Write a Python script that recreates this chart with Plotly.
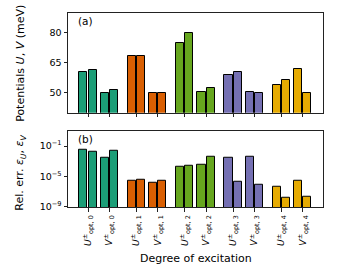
import plotly.graph_objects as go
import numpy as np

groups = [0, 1, 2, 3, 4]
colors = ["#1b9e77", "#d95f02", "#66a61e", "#7570b3", "#e6ab02"]
# per group: [U+, U-, V+, V-]
potentials = [
    [60.2, 61.3, 50.0, 51.5],
    [68.3, 68.5, 49.8, 50.0],
    [74.8, 79.8, 50.3, 52.2],
    [59.0, 60.2, 50.2, 50.0],
    [53.8, 56.3, 61.7, 49.8],
]
log_rel_err = [
    [-1.43, -1.70, -2.56, -1.57],
    [-5.60, -5.40, -5.83, -5.60],
    [-3.74, -3.57, -3.44, -2.35],
    [-2.60, -5.74, -2.43, -6.09],
    [-6.35, -7.78, -5.52, -7.69],
]
tick_labels = []
for g in groups:
    tick_labels.append(f"<i>U</i><sup>±</sup><sub>opt, {g}</sub>")
    tick_labels.append(f"<i>V</i><sup>±</sup><sub>opt, {g}</sub>")

GROUP_SP = 2.27
OFF = 0.215
W = 0.38

fig = go.Figure()
tickpos = []
for gi, g in enumerate(groups):
    base = gi * GROUP_SP
    tU, tV = base, base + 1
    tickpos += [tU, tV]
    xs = [tU - OFF, tU + OFF, tV - OFF, tV + OFF]
    fig.add_trace(go.Bar(x=xs, y=potentials[gi], width=W, marker=dict(color=colors[gi], line=dict(color="black", width=1)),
                         xaxis="x", yaxis="y", showlegend=False, base=0, hoverinfo="skip"))
    fig.add_trace(go.Bar(x=xs, y=[10 ** v for v in log_rel_err[gi]], width=W,
                         marker=dict(color=colors[gi], line=dict(color="black", width=1)),
                         xaxis="x2", yaxis="y2", showlegend=False, hoverinfo="skip"))

font = dict(family="DejaVu Sans", size=9.5, color="black")
tfont = dict(family="DejaVu Sans", size=11, color="black")
axcommon = dict(showgrid=False, zeroline=False, showline=True, linecolor="#222", linewidth=1, mirror=True,
                ticks="outside", ticklen=3.5, tickcolor="#222", tickfont=font)
xr = [-0.94, 11.03]
fig.update_layout(
    width=340, height=270, margin=dict(l=68, r=17, t=13, b=62.5),
    paper_bgcolor="white", plot_bgcolor="white", font=font, bargap=0,
    xaxis=dict(axcommon, range=xr, domain=[0, 1], anchor="y", tickvals=tickpos, showticklabels=False),
    yaxis=dict(axcommon, range=[40, 90], domain=[0.486, 1], anchor="x", tickvals=[50, 65, 80]),
    xaxis2=dict(axcommon, range=xr, domain=[0, 1], anchor="y2", tickvals=tickpos, ticktext=tick_labels,
                tickangle=-90, tickfont=dict(family="DejaVu Sans", size=9.2, color="black")),
    yaxis2=dict(axcommon, type="log", range=[-9, 1], domain=[0, 0.393], anchor="x2",
                tickvals=[1e-9, 1e-5, 1e-1], ticktext=["10<sup>−9</sup>", "10<sup>−5</sup>", "10<sup>−1</sup>"]),
    annotations=[
        dict(text="(a)", xref="x domain", yref="y domain", x=0.03, y=1.0, xanchor="left", yanchor="top",
             showarrow=False, font=dict(family="DejaVu Sans", size=10.5)),
        dict(text="(b)", xref="x2 domain", yref="y2 domain", x=0.03, y=1.0, xanchor="left", yanchor="top",
             showarrow=False, font=dict(family="DejaVu Sans", size=10.5)),
        dict(text="Potentials <i>U</i>, <i>V</i> (meV)", xref="paper", yref="y domain", x=0, y=0.49,
             xshift=-47, xanchor="center", yanchor="middle", textangle=-90, showarrow=False, font=tfont),
        dict(text="Rel. err. <i>ε<sub>U</sub></i>, <i>ε<sub>V</sub></i>", xref="paper", yref="y2 domain", x=0, y=0.45,
             xshift=-48, xanchor="center", yanchor="middle", textangle=-90, showarrow=False, font=tfont),
        dict(text="Degree of excitation", xref="paper", yref="paper", x=0.5, y=0, yshift=-43,
             xanchor="center", yanchor="top", showarrow=False, font=tfont),
    ],
)
fig.write_html("out.html", config={"displayModeBar": False},
               post_script="document.body.style.margin='0';")
